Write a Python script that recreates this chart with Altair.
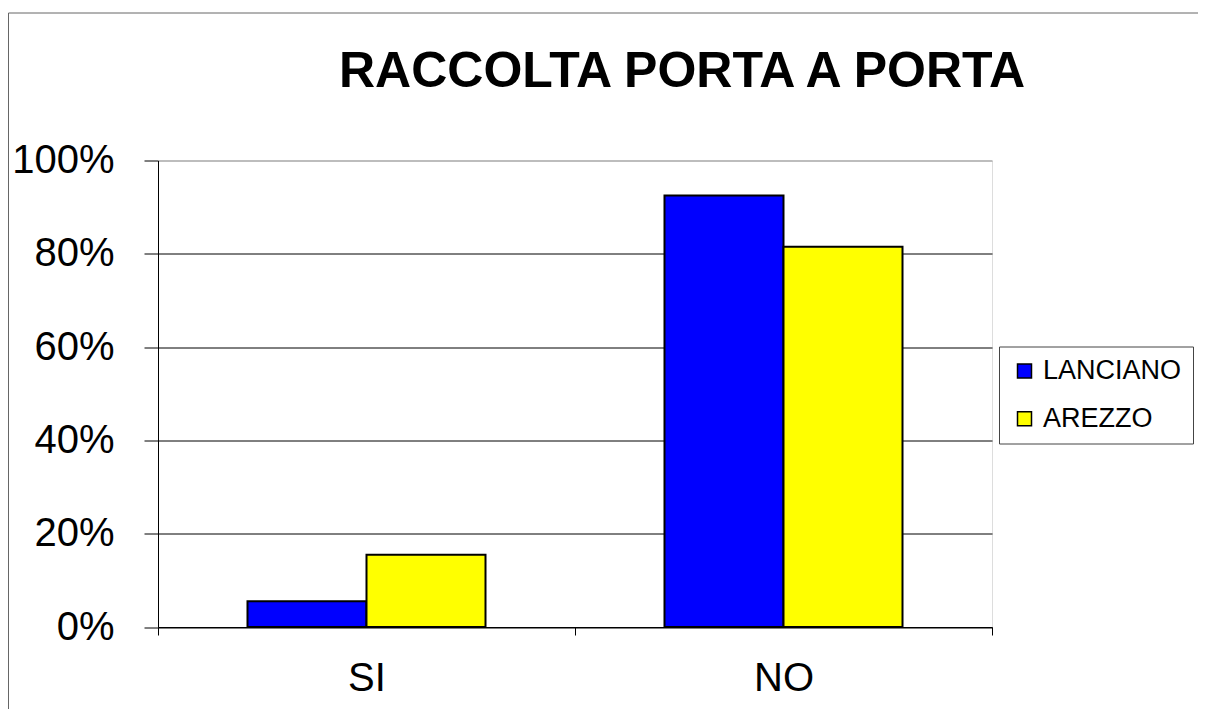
import altair as alt
import pandas as pd

CATEGORIES = ["SI", "NO"]
SERIES = ["LANCIANO", "AREZZO"]
LANCIANO = [0.055, 0.925]
AREZZO = [0.155, 0.815]
Y_TICKS = [0, 0.2, 0.4, 0.6, 0.8, 1.0]
COLORS = ["#0000ff", "#ffff00"]
TITLE = "RACCOLTA PORTA A PORTA"

rows = []
for s, vals in zip(SERIES, [LANCIANO, AREZZO]):
    for c, v in zip(CATEGORIES, vals):
        rows.append({"risposta": c, "citta": s, "valore": v})
df = pd.DataFrame(rows)

FONT = "Liberation Sans"

bars = alt.Chart(df).mark_bar(stroke="black", strokeWidth=2).encode(
    x=alt.X(
        "risposta:N", sort=CATEGORIES, title=None,
        scale=alt.Scale(paddingInner=0, paddingOuter=0),
        axis=alt.Axis(
            labelAngle=0, labelFontSize=40, labelFont=FONT, labelColor="black",
            domainColor="black", domainWidth=1, tickColor="black", tickSize=8,
            tickBand="extent", labelPadding=23, grid=False,
        ),
    ),
    xOffset=alt.XOffset(
        "citta:N", sort=SERIES,
        scale=alt.Scale(paddingInner=0, paddingOuter=0.752),
    ),
    y=alt.Y(
        "valore:Q", title=None,
        scale=alt.Scale(domain=[0, 1], nice=False),
        axis=alt.Axis(
            values=Y_TICKS, format="%", labelFontSize=40, labelFont=FONT,
            labelColor="black", domainColor="black", domainWidth=1,
            tickColor="black", tickSize=14, labelPadding=30,
            grid=True, gridWidth=1,
            gridColor={"condition": {"test": "datum.value >= 1", "value": "#8c8c8c"}, "value": "black"},
        ),
    ),
    color=alt.Color(
        "citta:N", sort=SERIES,
        scale=alt.Scale(domain=SERIES, range=COLORS),
        legend=alt.Legend(
            title=None, orient="none", legendX=841, legendY=186,
            strokeColor="#444", fillColor="white", padding=11,
            symbolType="square", symbolSize=196, symbolStrokeColor="black",
            symbolStrokeWidth=1.5, symbolOffset=1, labelOffset=5,
            labelFontSize=27, labelFont=FONT, labelColor="black", rowPadding=19.7,
        ),
    ),
)

border = alt.Chart(pd.DataFrame({"k": [0]})).mark_rect(
    fill="transparent", stroke="#666666", strokeWidth=1
).encode(
    x=alt.value(-149.5), x2=alt.value(1100),
    y=alt.value(-147.5), y2=alt.value(600),
)

title = alt.Chart(pd.DataFrame({"t": [TITLE]})).mark_text(
    font=FONT, fontSize=50, fontWeight="bold", color="black",
    align="center", baseline="alphabetic",
).encode(
    text="t:N", x=alt.value(524), y=alt.value(-74),
)

chart = alt.layer(border, bars, title).properties(
    width=834,
    height=466.5,
    padding={"left": 150, "top": 152.5, "right": 206, "bottom": 82},
    autosize=alt.AutoSizeParams(type="none"),
).configure_view(
    stroke="#8c8c8c", strokeWidth=2
).configure(background="white")

chart.save("out.html", embed_options={"renderer": "svg", "actions": False})
